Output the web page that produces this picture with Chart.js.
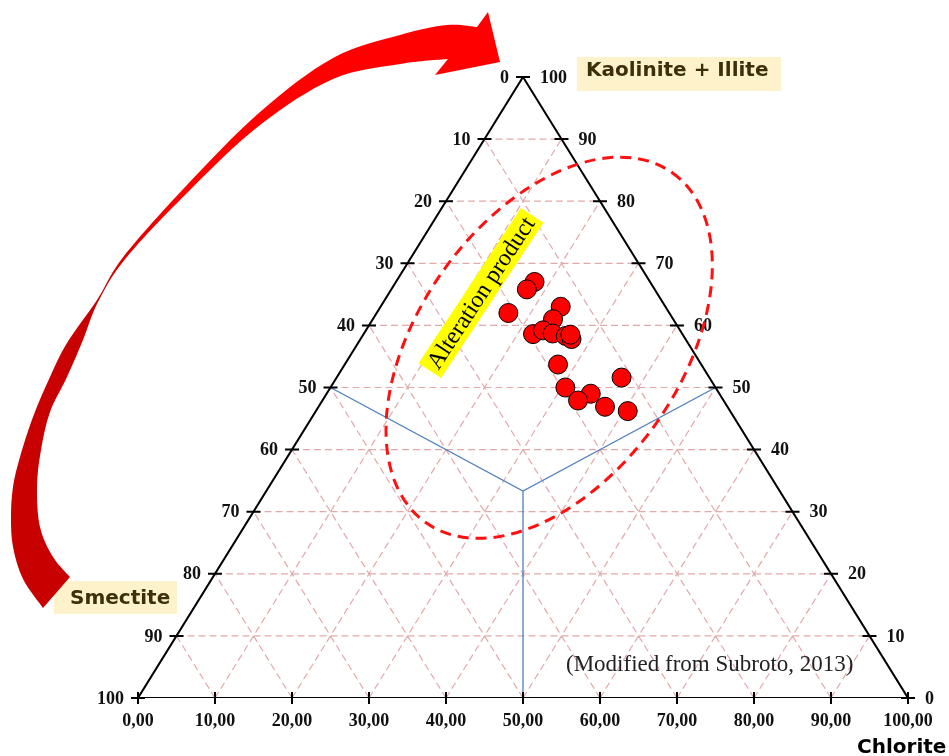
<!DOCTYPE html>
<html>
<head>
<meta charset="utf-8">
<script src="https://cdn.jsdelivr.net/npm/chart.js@4.4.1/dist/chart.umd.min.js"></script>
<style>
  html, body { margin: 0; padding: 0; background: #fff; }
  #wrap { width: 949px; height: 756px; }
</style>
</head>
<body>
<div id="wrap"><canvas id="ternary" width="949" height="756"></canvas></div>
<script>
// samples: Kaolinite+Illite % and Chlorite %, Smectite is what is left
const kaolIllite = [67.0, 65.8, 63.0, 62.0, 61.0, 58.6, 59.2, 58.7, 58.3, 57.8, 58.5, 53.7, 51.6, 50.0, 49.0, 47.9, 46.9, 46.2]
const chlorite   = [18.0, 17.6, 23.4, 17.1, 23.4, 22.0, 23.0, 24.5, 26.4, 27.4, 26.9, 27.7, 37.0, 30.5, 34.3, 33.2, 37.2, 40.5]
const smectite   = kaolIllite.map((k, i) => 100 - k - chlorite[i])

const levels       = [0, 10, 20, 30, 40, 50, 60, 70, 80, 90, 100]
const bottomLabels = ['0,00', '10,00', '20,00', '30,00', '40,00', '50,00', '60,00', '70,00', '80,00', '90,00', '100,00']
const leftLabels   = ['100', '90', '80', '70', '60', '50', '40', '30', '20', '10', '0']   // from bottom to top
const rightLabels  = ['0', '10', '20', '30', '40', '50', '60', '70', '80', '90', '100']   // from bottom to top

// ternary -> plot coords (x along chlorite axis, y = kaolinite+illite)
function tern(k, c) { return { x: c + k / 2, y: k } }

// grid : horizontal lines + the two diagonal families, broken with null points
let gridPts = []
levels.slice(1, -1).forEach(v => {
  gridPts.push({ x: v / 2, y: v }, { x: 100 - v / 2, y: v }, { x: null, y: null })
  gridPts.push({ x: v, y: 0 }, { x: 50 + v / 2, y: 100 - v }, { x: null, y: null })
  gridPts.push({ x: v, y: 0 }, { x: v / 2, y: v }, { x: null, y: null })
})

const samples = kaolIllite.map((k, i) => tern(k, chlorite[i]))
const centre = tern(100 / 3, 100 / 3)

// drawing stuff that is not data: arrow, labels, ticks
const extras = {
  id: 'extras',
  afterDatasetsDraw(chart) {
    const ctx = chart.ctx
    const sx = chart.scales.x, sy = chart.scales.y
    const px = v => sx.getPixelForValue(v)
    const py = v => sy.getPixelForValue(v)

    // tick marks
    ctx.save()
    ctx.strokeStyle = '#000'
    ctx.lineWidth = 2
    levels.forEach(v => {
      ctx.beginPath()
      ctx.moveTo(px(v / 2) - 7, py(v)); ctx.lineTo(px(v / 2) + 7, py(v))
      ctx.moveTo(px(100 - v / 2) - 7, py(v)); ctx.lineTo(px(100 - v / 2) + 7, py(v))
      ctx.moveTo(px(v), py(0) - 6); ctx.lineTo(px(v), py(0) + 6)
      ctx.stroke()
    })

    // tick labels
    ctx.fillStyle = '#111'
    ctx.font = 'bold 18px "Liberation Serif"'
    ctx.textBaseline = 'middle'
    levels.forEach((v, i) => {
      ctx.textAlign = 'right'
      ctx.fillText(leftLabels[i], px(v / 2) - 14, py(v) + 1)
      ctx.textAlign = 'left'
      ctx.fillText(rightLabels[i], px(100 - v / 2) + 17, py(v) + 1)
      ctx.textAlign = 'center'
      ctx.fillText(bottomLabels[i], px(v), py(0) + 23)
    })

    // dashed ellipse "alteration product" field
    ctx.beginPath()
    ctx.setLineDash([11, 7])
    ctx.strokeStyle = '#ff1010'
    ctx.lineWidth = 3
    ctx.ellipse(px(53.4), py(56.4), 214, 131, -54.9 * Math.PI / 180, 0, Math.PI * 2)
    ctx.stroke()
    ctx.setLineDash([])

    // yellow rotated label
    ctx.save()
    ctx.translate(481, 293)
    ctx.rotate(-56.6 * Math.PI / 180)
    ctx.fillStyle = '#ffff00'
    ctx.fillRect(-93, -13.5, 186, 27)
    ctx.fillStyle = '#000'
    ctx.font = '24px "Liberation Serif"'
    ctx.textAlign = 'center'
    ctx.textBaseline = 'middle'
    ctx.fillText('Alteration product', 0, 1)
    ctx.restore()

    ctx.fillStyle = '#222'
    ctx.font = '23px "Liberation Serif"'
    ctx.textAlign = 'left'
    ctx.fillText('(Modified from Subroto, 2013)', 566, 665)

    // end member names
    ctx.font = 'bold 20px "DejaVu Sans"'
    ctx.fillStyle = '#fef2cb'
    ctx.fillRect(577, 57, 204, 34)
    ctx.fillRect(54, 581, 123, 33)
    ctx.fillStyle = '#3a300c'
    ctx.fillText('Kaolinite + Illite', 586, 71)
    ctx.fillText('Smectite', 70, 599)
    ctx.fillStyle = '#000'
    ctx.fillText('Chlorite', 857, 748)

    // big curved arrow from Smectite to Kaolinite+Illite
    const outer = [[43,608],[23,579],[13,547],[11,517],[13,487],[20,457],[33,417],[50,377],[67,343],[97,300],[124,256],[187,185],[260,112],[333,58],[400,35],[447,25],[477,27]]
    const head = [[488,12],[500,62],[435,75],[448,59]]
    const inner = [[448,59],[400,64],[333,79],[260,125],[190,190],[126,258],[98,302],[83,340],[67,377],[50,412],[41,450],[37,487],[40,527],[53,557],[70,577]]
    // catmull-rom through the points
    const smooth = pts => {
      const n = pts.length
      for (let i = 0; i < n - 1; i++) {
        const p0 = pts[Math.max(i - 1, 0)], p1 = pts[i], p2 = pts[i + 1], p3 = pts[Math.min(i + 2, n - 1)]
        ctx.bezierCurveTo(
          p1[0] + (p2[0] - p0[0]) / 6, p1[1] + (p2[1] - p0[1]) / 6,
          p2[0] - (p3[0] - p1[0]) / 6, p2[1] - (p3[1] - p1[1]) / 6,
          p2[0], p2[1])
      }
    }
    const grad = ctx.createLinearGradient(0, 190, 0, 290)
    grad.addColorStop(0, '#ff0000')
    grad.addColorStop(1, '#c80000')
    ctx.fillStyle = grad
    ctx.beginPath()
    ctx.moveTo(outer[0][0], outer[0][1])
    smooth(outer)
    head.forEach(p => ctx.lineTo(p[0], p[1]))
    smooth(inner)
    ctx.closePath()
    ctx.fill()
    ctx.restore()
  }
}

new Chart(document.getElementById('ternary'), {
  type: 'scatter',
  data: {
    datasets: [
      {
        label: 'samples',
        data: samples,
        backgroundColor: '#ff0000',
        borderColor: '#000',
        borderWidth: 1,
        pointRadius: 9.5,
        order: 0
      },
      {
        label: 'fields',
        data: [{ x: 25, y: 50 }, centre, { x: 75, y: 50 }, { x: null, y: null }, centre, { x: 50, y: 0 }],
        showLine: true,
        borderColor: '#4f7fc0',
        borderWidth: 1.3,
        pointRadius: 0,
        spanGaps: false,
        order: 1
      },
      {
        label: 'triangle',
        data: [{ x: 0, y: 0 }, { x: 50, y: 100 }, { x: 100, y: 0 }, { x: 0, y: 0 }],
        showLine: true,
        borderColor: '#000',
        borderWidth: 2,
        pointRadius: 0,
        order: 2
      },
      {
        label: 'grid',
        data: gridPts,
        showLine: true,
        borderColor: 'rgba(215,140,140,0.75)',
        borderWidth: 1.2,
        borderDash: [7, 4],
        pointRadius: 0,
        spanGaps: false,
        order: 3
      }
    ]
  },
  options: {
    responsive: false,
    animation: false,
    devicePixelRatio: 1,
    events: [],
    layout: { padding: { left: 138, right: 41, top: 77, bottom: 58 } },
    scales: {
      x: { type: 'linear', min: 0, max: 100, display: false },
      y: { type: 'linear', min: 0, max: 100, display: false }
    },
    plugins: { legend: { display: false }, tooltip: { enabled: false } }
  },
  plugins: [extras]
})
</script>
</body>
</html>
